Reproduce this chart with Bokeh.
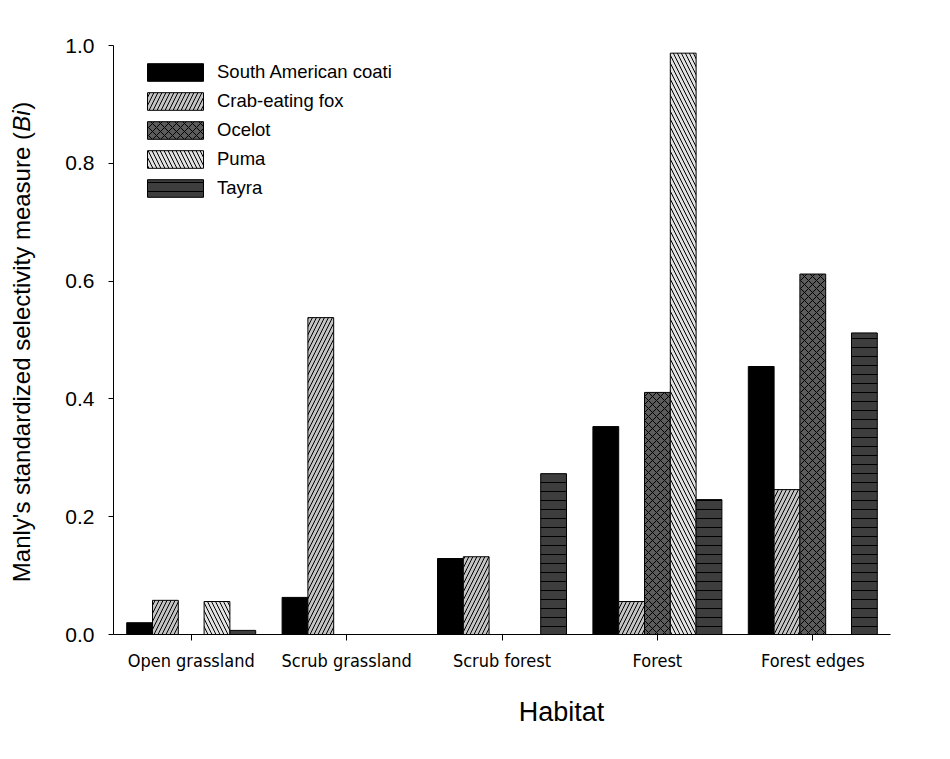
import math
from bokeh.plotting import figure
from bokeh.layouts import row, column
from bokeh.core.properties import value
from bokeh.models import (ColumnDataSource, FixedTicker, Legend, LegendItem,
                          Range1d, NumeralTickFormatter)
from bokeh.transform import dodge
from bokeh.embed import file_html
from bokeh.resources import INLINE

habitats = ["Open grassland", "Scrub grassland", "Scrub forest", "Forest", "Forest edges"]
species = ["South American coati", "Crab-eating fox", "Ocelot", "Puma", "Tayra"]
coati = [0.020, 0.063, 0.129, 0.353, 0.455]
fox = [0.058, 0.538, 0.132, 0.056, 0.246]
ocelot = [0.0, 0.0, 0.0, 0.411, 0.612]
puma = [0.056, 0.0, 0.0, 0.987, 0.0]
tayra = [0.007, 0.0, 0.273, 0.229, 0.512]
y_ticks = [0.0, 0.2, 0.4, 0.6, 0.8, 1.0]
y_title_parts = ["Manly's standardized selectivity measure (", "Bi", ")"]
y_title_styles = ["normal", "italic", "normal"]
x_title = ["Habitat"]

fills = ["#000000", "#c4c4c4", "#5c5c5c", "#e2e2e2", "#3e3e3e"]
hatches = [" ", "/", "x", "\\", "-"]
hatch_scales = [8, 8, 8, 8, 9]

pos = list(range(len(habitats)))
src = ColumnDataSource(dict(pos=pos, coati=coati, fox=fox, ocelot=ocelot,
                            puma=puma, tayra=tayra))
keys = ["coati", "fox", "ocelot", "puma", "tayra"]

H = 743          # total height
W = 934          # total width
LW = 40          # width of the panel holding the y title
BOT = 60         # bottom border of the main plot
MH = 634 + BOT   # main plot height
BH = H - MH      # height of the strip holding the x title

p = figure(width=W - LW, height=MH, x_range=Range1d(-0.5, len(habitats) - 0.5),
           y_range=Range1d(0, 1), output_backend="svg", toolbar_location=None,
           min_border_left=113 - LW, min_border_right=44, min_border_top=45,
           min_border_bottom=BOT)
p.grid.visible = False
p.outline_line_color = None

bw = 0.166
items = []
for i, k in enumerate(keys):
    r = p.vbar(x=dodge("pos", (i - 2) * bw), top=k, width=bw,
               source=src, fill_color=fills[i], line_color="#000000", line_width=1,
               hatch_pattern=hatches[i], hatch_color="#000000", hatch_weight=1,
               hatch_scale=hatch_scales[i])
    items.append(LegendItem(label=species[i], renderers=[r]))

legend = Legend(items=items, location=(27, 435), glyph_width=70, glyph_height=22,
                label_text_font="Liberation Sans", label_text_font_size="18.5px",
                label_text_color="#000000",
                label_standoff=7, spacing=7, padding=0, margin=0, label_height=22,
                border_line_alpha=0, background_fill_alpha=0)
p.add_layout(legend, "center")

# axes
p.yaxis.ticker = FixedTicker(ticks=y_ticks)
p.yaxis.formatter = NumeralTickFormatter(format="0.0")
p.xaxis.ticker = FixedTicker(ticks=pos)
p.xaxis.major_label_overrides = {i: h for i, h in zip(pos, habitats)}
for ax in (p.xaxis[0], p.yaxis[0]):
    ax.axis_line_color = "#000000"
    ax.major_tick_line_color = "#000000"
    ax.minor_tick_line_color = None
    ax.major_tick_in = 0
    ax.major_label_text_color = "#000000"
p.yaxis.major_tick_out = 5
p.yaxis.major_label_standoff = 14
p.yaxis.major_label_text_font = "Liberation Sans"
p.yaxis.major_label_text_font_size = "21px"

p.xaxis.major_tick_out = 6
p.xaxis.major_label_standoff = 9
p.xaxis.major_label_text_font = "DejaVu Sans Condensed"
p.xaxis.major_label_text_font_size = "18px"

# y-axis title (separate narrow panel, so that "Bi" can be italic);
# its data y equals H - page y
F = 24
em = [18.75, 0.889, 0.333]
center_y = H - 342
starts = []
cur = center_y - sum(em) * F / 2
for e in em:
    starts.append(cur)
    cur += e * F + 0.5
left = figure(width=LW, height=MH, x_range=Range1d(0, LW), y_range=Range1d(H - 634, H - 45),
              output_backend="svg", toolbar_location=None, title=None,
              min_border_left=0, min_border_right=0, min_border_top=45,
              min_border_bottom=BOT, x_axis_location=None, y_axis_location=None)
left.grid.visible = False
left.outline_line_color = None
tsrc = ColumnDataSource(dict(x=[21] * 3, y=starts, text=y_title_parts, style=y_title_styles))
left.text(x="x", y="y", text="text", source=tsrc, angle=math.pi / 2,
          text_font=value("Liberation Sans"), text_font_size=value(f"{F}px"),
          text_font_style="style",
          text_align="left", text_baseline="middle", text_color="#000000")

# x-axis title strip; its data y equals H - page y, data x equals page x
bottom = figure(width=W, height=BH, x_range=Range1d(0, W), y_range=Range1d(0, BH),
                output_backend="svg", toolbar_location=None, title=None, min_border=0,
                x_axis_location=None, y_axis_location=None)
bottom.grid.visible = False
bottom.outline_line_color = None
bsrc = ColumnDataSource(dict(x=[561], y=[H - 711], text=x_title))
bottom.text(x="x", y="y", text="text", source=bsrc,
            text_font=value("Liberation Sans"), text_font_size=value("27px"),
            text_align="center", text_baseline="middle", text_color="#000000")

open("out.html", "w").write(file_html(column(row(left, p), bottom), INLINE))
